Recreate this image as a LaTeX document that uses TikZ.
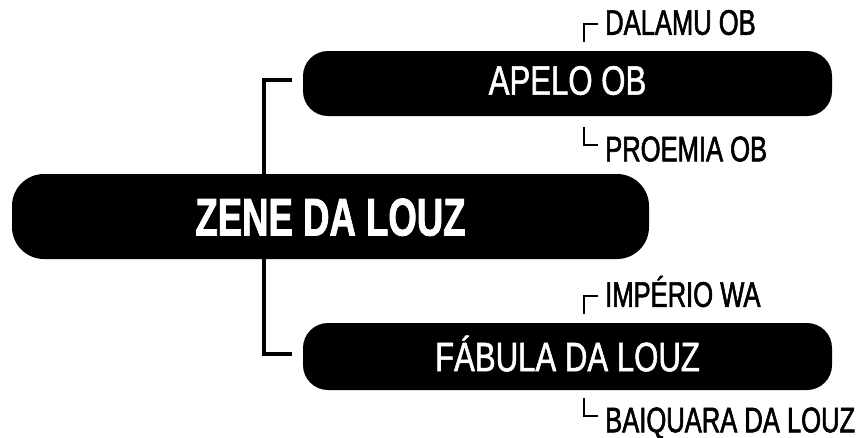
\documentclass[tikz,border=0pt]{standalone}
\usepackage{fontspec}
\setmainfont{Liberation Sans}[FakeStretch=0.76,FakeBold=1.3]
\newfontfamily\subfont{Liberation Sans}[FakeStretch=0.72,FakeBold=1.6]
\newfontfamily\zfont{Liberation Sans}[FakeStretch=0.69,FakeBold=1.4,UprightFont={* Bold}]
\usetikzlibrary{backgrounds}
\begin{document}
\begin{tikzpicture}[x=1pt,y=-1pt,
  pill/.style={fill=black,text=white,inner sep=0pt,text depth=0pt},
  conn/.style={line width=3.3pt},
  brk/.style={line width=2.7pt},
  sub/.style={anchor=west,inner sep=0pt,text height=25.5pt,text depth=0pt,font=\subfont\fontsize{35.5}{35.5}\selectfont}]
\useasboundingbox (0,0) rectangle (867,437);
\node[pill, minimum width=637pt, minimum height=85pt, rounded corners=32pt,
      text height=38pt, font=\zfont\fontsize{53}{53}\selectfont] (main) at (330.5,216.5) {ZENE DA LOUZ};
\node[pill, minimum width=529pt, minimum height=65pt, rounded corners=25pt,
      text height=29.3pt, text depth=7pt, font=\fontsize{41}{41}\selectfont] (apelo) at (567.5,83.5) {APELO OB};
\node[pill, minimum width=529pt, minimum height=67pt, rounded corners=25pt,
      text height=29.3pt, font=\fontsize{41}{41}\selectfont] (fab) at (567.5,356.5) {FÁBULA DA LOUZ};
\coordinate (v) at (264,216.5);
\begin{scope}[on background layer]
\draw[conn] ([xshift=-11pt,yshift=3.5pt]apelo.west) -| (v) |- ([xshift=-11pt,yshift=2.5pt]fab.west);
\end{scope}
\node[sub] (dal) at (605,22) {DALAMU OB};
\node[sub] (pro) at (605,148.5) {PROEMIA OB};
\node[sub] (imp) at (605,294) {IMPÉRIO WA};
\node[sub] (bai) at (605,419.5) {BAIQUARA DA LOUZ};
\draw[brk] ([xshift=-7pt,yshift=-2pt]dal.west) -| ([xshift=-21pt,yshift=-20pt]dal.west);
\draw[brk] ([xshift=-7pt,yshift=3.5pt]pro.west) -| ([xshift=-21pt,yshift=21.5pt]pro.west);
\draw[brk] ([xshift=-7pt,yshift=-2pt]imp.west) -| ([xshift=-21pt,yshift=-20pt]imp.west);
\draw[brk] ([xshift=-7pt,yshift=3.5pt]bai.west) -| ([xshift=-21pt,yshift=21.5pt]bai.west);
\end{tikzpicture}
\end{document}
